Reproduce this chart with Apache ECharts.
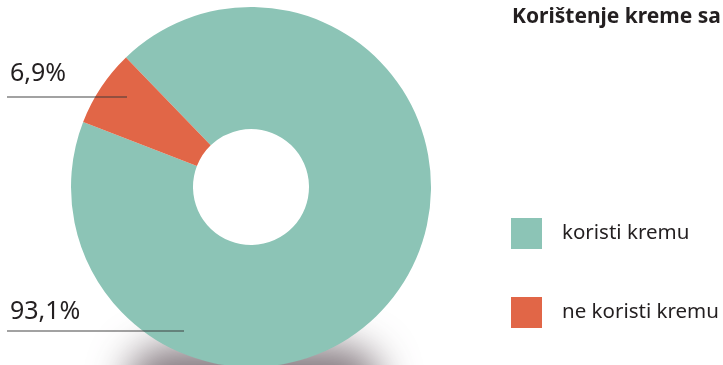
<!DOCTYPE html>
<html>
<head>
<meta charset="utf-8">
<script src="https://cdn.jsdelivr.net/npm/echarts@6/dist/echarts.min.js"></script>
<style>html,body{margin:0;padding:0;background:#fff}#c{width:723px;height:365px}</style>
</head>
<body>
<div id="c"></div>
<script>
const categories = ['koristi kremu', 'ne koristi kremu'];
const values = [93.1, 6.9];
const labels = ['93,1%', '6,9%'];
const colors = ['#8cc4b6', '#e16647'];
const title = 'Korištenje kreme sa';

// label layout (text position and leader line) per data index
const labelPos = [
  { x: 10, y: 312, line: [[184, 331], [7, 331]] },
  { x: 10, y: 74, line: [[127, 97], [7, 97]] }
];

const pieData = categories.map((c, i) => ({ name: c, value: values[i], itemStyle: { color: colors[i] } }));

const chart = echarts.init(document.getElementById('c'));
chart.setOption({
  animation: false,
  title: {
    text: title,
    left: 507, top: 2,
    textStyle: { fontFamily: 'Noto Sans', fontWeight: 'bold', fontSize: 21, color: '#231f20' }
  },
  legend: {
    orient: 'vertical',
    left: 506, top: 213,
    itemWidth: 31, itemHeight: 31, itemGap: 48,
    icon: 'rect',
    data: categories,
    textStyle: { fontFamily: 'Noto Sans', fontSize: 20.5, color: '#231f20', padding: [0, 0, 0, 15] }
  },
  graphic: [{
    // soft drop shadow under the donut: shape drawn off-canvas, only its shadow is visible
    type: 'rect',
    z: 0,
    silent: true,
    shape: { x: 127, y: 1346, width: 254, height: 90, r: 40 },
    style: {
      fill: '#000',
      shadowColor: 'rgba(110,98,105,0.85)',
      shadowBlur: 38,
      shadowOffsetX: 0,
      shadowOffsetY: -1000
    }
  }],
  series: [{
    type: 'pie',
    z: 5,
    center: [251, 187],
    radius: [58, 180],
    startAngle: 134,
    clockwise: true,
    data: pieData,
    label: { show: false },
    labelLine: { show: false },
    emphasis: { disabled: true }
  }, {
    type: 'pie',
    z: 10,
    silent: true,
    center: [251, 187],
    radius: [58, 180],
    startAngle: 134,
    clockwise: true,
    avoidLabelOverlap: false,
    data: categories.map((c, i) => ({ name: c, value: values[i], itemStyle: { color: 'rgba(0,0,0,0)' } })),
    legendHoverLink: false,
    label: {
      show: true,
      formatter: p => labels[p.dataIndex],
      fontFamily: 'Noto Sans',
      fontSize: 25,
      color: '#231f20'
    },
    labelLine: {
      show: true,
      lineStyle: { color: 'rgba(55,55,55,0.62)', width: 1.3 }
    },
    labelLayout: function (p) {
      const L = labelPos[p.dataIndex];
      return { x: L.x, y: L.y, align: 'left', verticalAlign: 'middle', labelLinePoints: [L.line[0], L.line[1], L.line[1]] };
    },
    emphasis: { disabled: true }
  }]
});
</script>
</body>
</html>
